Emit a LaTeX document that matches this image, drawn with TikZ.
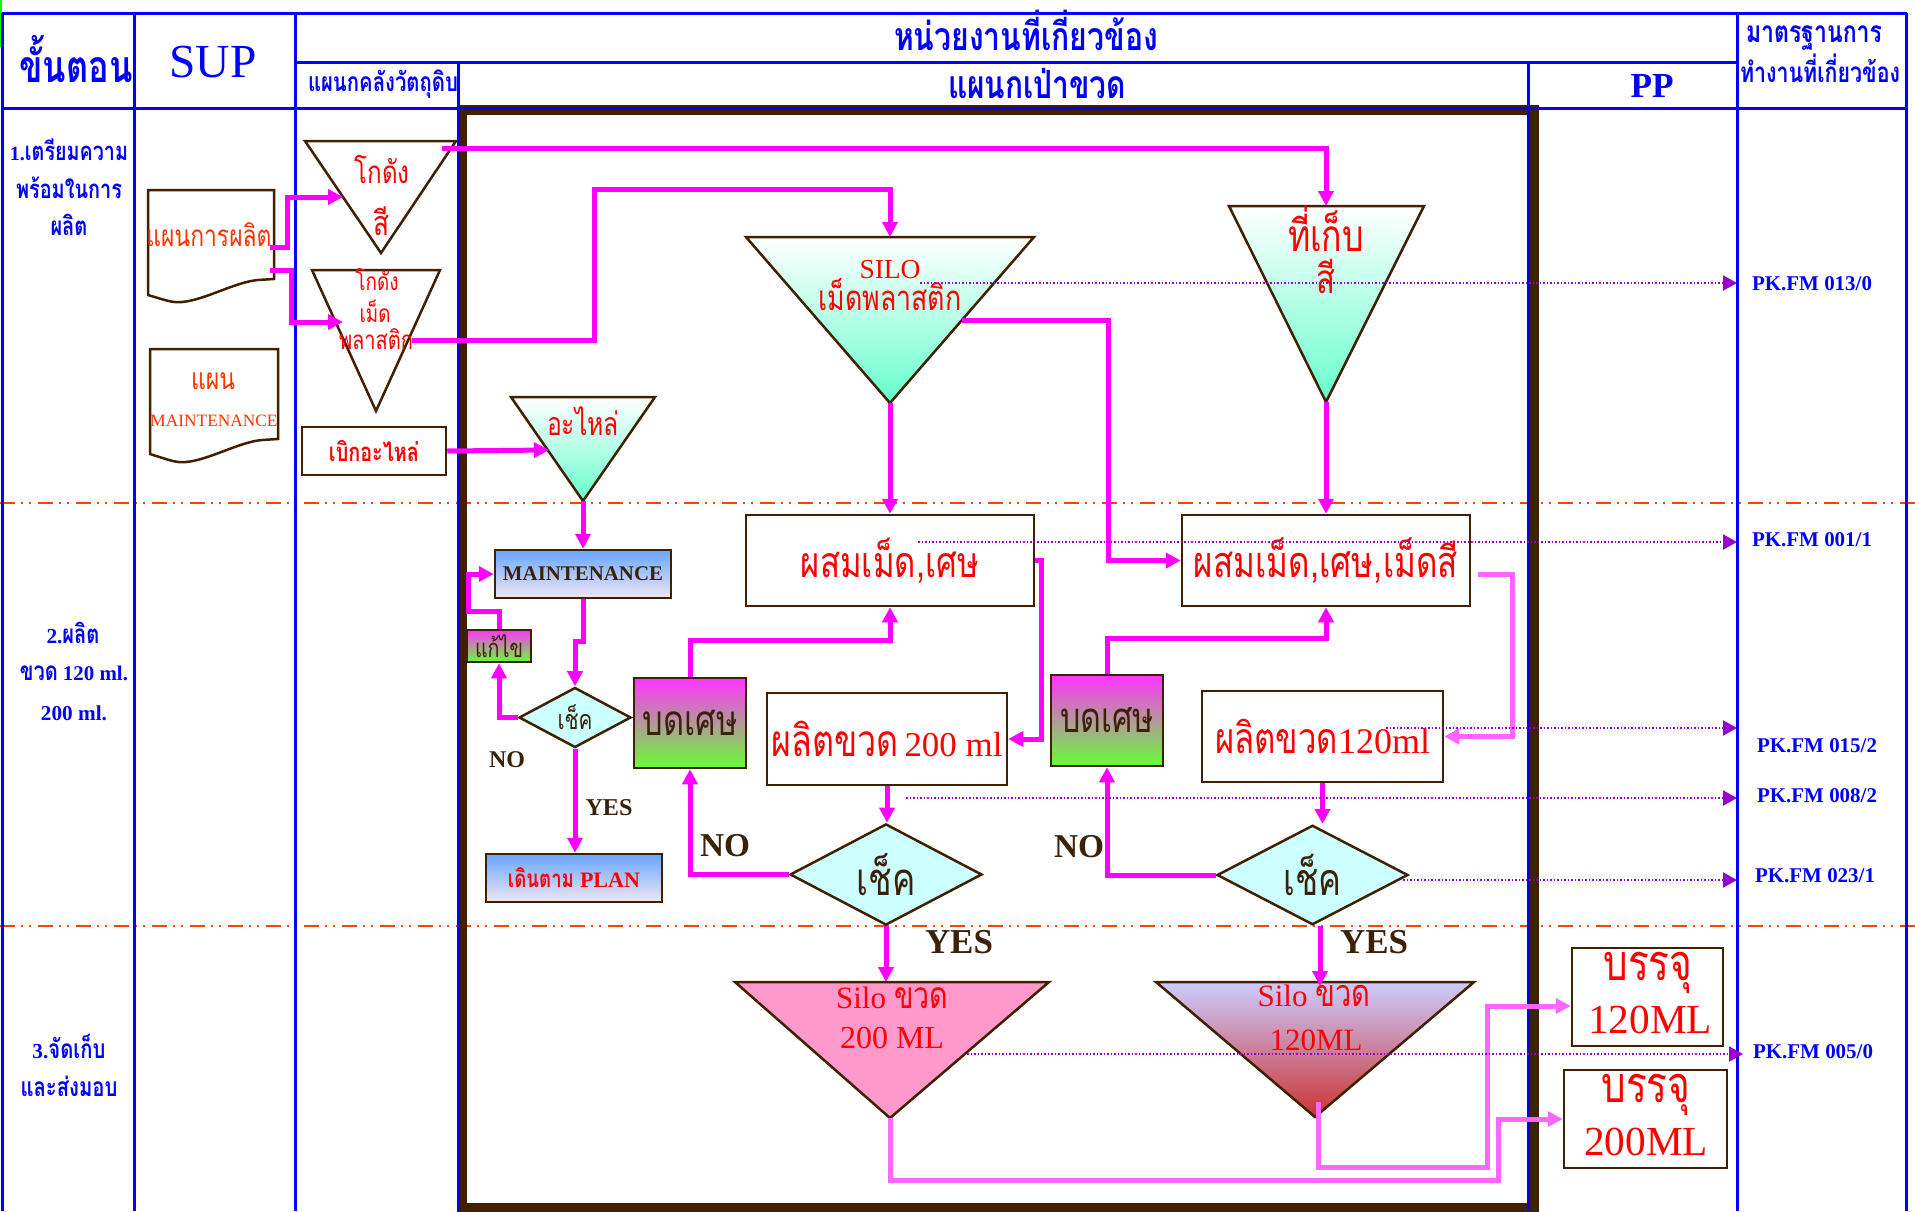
\documentclass[tikz,border=0pt]{standalone}
\usepackage{fontspec}
\setmainfont{Liberation Serif}
\newfontfamily\thf[Script=Thai]{Loma}
\usetikzlibrary{shapes.geometric,arrows.meta}
\newcommand\fw[2]{\resizebox{#1pt}{!}{#2}}
\newcommand\tw[2]{\scalebox{1}[1.3]{\resizebox{#1pt}{!}{\thf #2}}}
\newcommand\twb[2]{\scalebox{1}[1.3]{\resizebox{#1pt}{!}{\thf\bfseries #2}}}
\definecolor{tblue}{HTML}{0000FF}
\definecolor{mag}{HTML}{FF00FF}
\definecolor{lmag}{HTML}{FF66FF}
\definecolor{brn}{HTML}{402000}
\definecolor{pur}{HTML}{9900CC}
\definecolor{dred}{HTML}{FF4000}
\definecolor{aqua}{HTML}{66FFCC}
\definecolor{tred}{HTML}{FF0000}
\definecolor{ored}{HTML}{FF3300}
\definecolor{mblue}{HTML}{66A6FF}
\definecolor{lav}{HTML}{F2E6F2}
\definecolor{bmag}{HTML}{FF33FF}
\definecolor{bgreen}{HTML}{66FF33}
\definecolor{pinkf}{HTML}{FF99CC}
\definecolor{lavb}{HTML}{CCCCFF}
\definecolor{dkred}{HTML}{CC3333}
\definecolor{cyanf}{HTML}{CCFFFF}
\definecolor{dk}{HTML}{3A2208}
\definecolor{grn}{HTML}{00FF00}
\begin{document}
\begin{tikzpicture}[x=1pt,y=-1pt,
 tbl/.style={tblue, line width=3pt},
 sep/.style={dred, line width=2.5pt, dash pattern=on 15pt off 6pt on 2pt off 6pt on 2pt off 7pt},
 flow/.style={mag, line width=5pt, -{Triangle[length=15pt,width=15pt]}},
 lflow/.style={lmag, line width=5pt, -{Triangle[length=15pt,width=15pt]}},
 dotl/.style={pur, line width=2pt, dash pattern=on 1.5pt off 2pt, -{Triangle[length=14pt,width=15pt]}},
 box/.style={draw=brn, line width=2.5pt, fill=white, inner sep=0pt},
 dia/.style={diamond, draw=brn, line width=2.5pt, fill=cyanf, inner sep=0pt, text=dk},
 tri/.style={draw=brn, line width=2.5pt, line join=miter},
 lbl/.style={inner sep=0pt, anchor=base}
]
\useasboundingbox (0,0) rectangle (1915,1211);
\fill[white] (0,0) rectangle (1915,1211);
% row separators
\draw[sep] (0,503) -- (1915,503);
\draw[sep] (0,926) -- (1915,926);
% brown frame
\draw[brn, line width=10pt] (462,110) rectangle (1534,1208);
% table lines
\draw[grn, line width=2pt] (1,0) -- (1,47);
\draw[tbl] (2,13) -- (1907,13);
\draw[tbl] (295,62) -- (1737,62);
\draw[tbl] (2,108) -- (1907,108);
\draw[tbl] (2,13) -- (2,1211);
\draw[tbl] (134,13) -- (134,1211);
\draw[tbl] (295,13) -- (295,1211);
\draw[tbl] (458,62) -- (458,1211);
\draw[tbl] (1528,62) -- (1528,1211);
\draw[tbl] (1737,13) -- (1737,1211);
\draw[tbl] (1906,13) -- (1906,1211);
% header texts
\node[lbl, text=tblue] (hStep) at (76,82) {\twb{113}{ขั้นตอน}};
\node[lbl, text=tblue] (hSup) at (213,77) {\fw{87}{SUP}};
\node[lbl, text=tblue] (hRaw) at (383,91) {\twb{150}{แผนกคลังวัตถุดิบ}};
\node[lbl, text=tblue] (hUnits) at (1026,50) {\twb{264}{หน่วยงานที่เกี่ยวข้อง}};
\node[lbl, text=tblue] (hBlow) at (1037,98) {\twb{178}{แผนกเป่าขวด}};
\node[lbl, text=tblue] (hPP) at (1652,97) {\fw{43}{\bfseries PP}};
\node[lbl, text=tblue] (hStd1) at (1814,42) {\twb{136}{มาตรฐานการ}};
\node[lbl, text=tblue] (hStd2) at (1820,82) {\twb{160}{ทำงานที่เกี่ยวข้อง}};
% step texts
\node[lbl, text=tblue] (s1a) at (69,160) {\fw{15}{\bfseries 1.}\twb{103}{เตรียมความ}};
\node[lbl, text=tblue] (s1b) at (69,198) {\twb{106}{พร้อมในการ}};
\node[lbl, text=tblue] (s1c) at (69,235) {\twb{37}{ผลิต}};
\node[lbl, text=tblue] (s2a) at (73,643) {\fw{16}{\bfseries 2.}\twb{37}{ผลิต}};
\node[lbl, text=tblue] (s2b) at (74,680) {\twb{38}{ขวด}\hspace{5pt}\fw{65}{\bfseries 120 ml.}};
\node[lbl, text=tblue] (s2c) at (74,720) {\fw{66}{\bfseries 200 ml.}};
\node[lbl, text=tblue] (s3a) at (69,1058) {\fw{16}{\bfseries 3.}\twb{57}{จัดเก็บ}};
\node[lbl, text=tblue] (s3b) at (69,1096) {\twb{97}{และส่งมอบ}};
% documents
\draw[brn, line width=2.5pt, fill=white] (148,190) -- (274,190) -- (274,279) -- (258,280) .. controls (235,282) and (205,300) .. (182,302) .. controls (172,303) and (165,300) .. (148,295) -- cycle;
\node[lbl, text=ored] (tDoc1) at (209,246) {\tw{125}{แผนการผลิต}};
\draw[brn, line width=2.5pt, fill=white] (150,349) -- (278,349) -- (278,439) -- (262,440) .. controls (239,442) and (209,460) .. (186,462) .. controls (176,463) and (169,460) .. (150,454) -- cycle;
\node[lbl, text=ored] (tDoc2a) at (213,389) {\tw{44}{แผน}};
\node[lbl, text=ored] (tDoc2b) at (214,426) {\fw{127}{MAINTENANCE}};
% triangles
\filldraw[tri, fill=white] (305,141) -- (456,141) -- (381,253) -- cycle;
\node[lbl, text=tred] (tC1) at (382,183) {\tw{55}{โกดัง}};
\node[lbl, text=tred] (tC2) at (381,235) {\tw{16}{สี}};
\filldraw[tri, fill=white] (312,270) -- (440,270) -- (376,411) -- cycle;
\node[lbl, text=tred] (tP1) at (377,290) {\tw{43}{โกดัง}};
\node[lbl, text=tred] (tP2) at (375,322) {\tw{31}{เม็ด}};
\node[lbl, text=tred] (tP3) at (376,349) {\tw{74}{พลาสติก}};
\shadedraw[tri, top color=white, bottom color=aqua] (746,237) -- (1034,237) -- (890,403) -- cycle;
\node[lbl, text=tred] (tS1) at (890,278) {\fw{61}{SILO}};
\node[lbl, text=tred] (tS2) at (890,310) {\tw{143}{เม็ดพลาสติก}};
\shadedraw[tri, top color=white, bottom color=aqua] (1229,206) -- (1424,206) -- (1326,402) -- cycle;
\node[lbl, text=tred] (tK1) at (1326,251) {\tw{76}{ที่เก็บ}};
\node[lbl, text=tred] (tK2) at (1326,293) {\tw{19}{สี}};
\shadedraw[tri, top color=white, bottom color=aqua] (511,397) -- (655,397) -- (583,501) -- cycle;
\node[lbl, text=tred] (tA) at (583,435) {\tw{72}{อะไหล่}};
\filldraw[tri, fill=pinkf] (735,982) -- (1049,982) -- (890,1118) -- cycle;
\node[lbl, text=tred] (tB1) at (892,1008) {\fw{50}{Silo}\hspace{8pt}\tw{54}{ขวด}};
\node[lbl, text=tred] (tB2) at (892,1048) {\fw{104}{200 ML}};
\shadedraw[tri, top color=lavb, bottom color=dkred] (1156,982) -- (1474,982) -- (1315,1117) -- cycle;
\node[lbl, text=tred] (tD1) at (1314,1006) {\fw{50}{Silo}\hspace{8pt}\tw{55}{ขวด}};
\node[lbl, text=tred] (tD2) at (1316,1050) {\fw{93}{120ML}};
% boxes
\node[box, minimum width=144, minimum height=48, text=tred] (withdraw) at (374,451) {\twb{90}{เบิกอะไหล่}};
\node[box, minimum width=288, minimum height=91, text=tred] (mix1) at (890,560.5) {\tw{178}{ผสมเม็ด,เศษ}};
\node[box, minimum width=288, minimum height=91, text=tred] (mix2) at (1326,560.5) {\tw{264}{ผสมเม็ด,เศษ,เม็ดสี}};
\node[box, minimum width=240, minimum height=92, text=tred] (prod200) at (887,739) {\tw{127}{ผลิตขวด}\hspace{6pt}\fw{98}{200 ml}};
\node[box, minimum width=241, minimum height=91, text=tred] (prod120) at (1322.5,736.5) {\tw{123}{ผลิตขวด}\fw{92}{120ml}};
\node[box, minimum width=112, minimum height=90, top color=bmag, bottom color=bgreen, text=dk] (grind1) at (690,723) {\tw{95}{บดเศษ}};
\node[box, minimum width=112, minimum height=91, top color=bmag, bottom color=bgreen, text=dk] (grind2) at (1107,720.5) {\tw{94}{บดเศษ}};
\node[box, minimum width=176, minimum height=48, top color=mblue, bottom color=lav, text=dk] (maint) at (583,574) {\fw{160}{\bfseries MAINTENANCE}};
\node[box, minimum width=64, minimum height=32, top color=bmag, bottom color=bgreen, text=dk] (fix) at (499,646) {\tw{48}{แก้ไข}};
\node[box, minimum width=176, minimum height=48, top color=mblue, bottom color=lav, text=tred] (plan) at (574,878) {\twb{66}{เดินตาม}\hspace{6pt}\fw{60}{\bfseries PLAN}};
\node[box, minimum width=151, minimum height=98] (pack120) at (1647.5,997) {};
\node[lbl, text=tred] (tE1) at (1648,980) {\tw{89}{บรรจุ}};
\node[lbl, text=tred] (tE2) at (1650,1033) {\fw{124}{120ML}};
\node[box, minimum width=163, minimum height=98] (pack200) at (1645.5,1119) {};
\node[lbl, text=tred] (tF1) at (1646,1102) {\tw{89}{บรรจุ}};
\node[lbl, text=tred] (tF2) at (1646,1155) {\fw{124}{200ML}};
% diamonds
\node[dia, minimum width=112, minimum height=47] (chk0) at (575,717.5) {\tw{35}{เช็ค}};
\node[dia, minimum width=192, minimum height=89] (chk1) at (886,874.5) {\tw{59}{เช็ค}};
\node[dia, minimum width=191, minimum height=90] (chk2) at (1312.5,875) {\tw{58}{เช็ค}};
% labels
\node[lbl, text=dk] (no0) at (507,767) {\fw{36}{\bfseries NO}};
\node[lbl, text=dk] (yes0) at (609,815) {\fw{47}{\bfseries YES}};
\node[lbl, text=dk] (no1) at (725,856) {\fw{50}{\bfseries NO}};
\node[lbl, text=dk] (no2) at (1079,857) {\fw{50}{\bfseries NO}};
\node[lbl, text=dk] (yes1) at (959,953) {\fw{68}{\bfseries YES}};
\node[lbl, text=dk] (yes2) at (1374,953) {\fw{68}{\bfseries YES}};
% connector coordinates
\coordinate (d1a) at (270,247);
\coordinate (d1b) at (270,270);
\coordinate (kcL) at (343,197);
\coordinate (kpL) at (343,322);
\coordinate (kpR) at (412,340);
\coordinate (kcR) at (442,148);
\coordinate (siloTop) at (890,237);
\coordinate (siloApex) at (890,403);
\coordinate (siloR) at (962,320);
\coordinate (storeTop) at (1326,206);
\coordinate (storeApex) at (1326,402);
\coordinate (spareL) at (549,450);
\coordinate (spareApex) at (583,501);
\coordinate (s200Top) at (889,982);
\coordinate (s200Apex) at (890,1118);
\coordinate (s120Top) at (1320,986);
\coordinate (s120In) at (1318,1102);
\coordinate (m2o) at (1478,574);
% connectors
\draw[flow] (d1a) -- ++(17,0) |- (kcL);
\draw[flow] (d1b) -- ++(21,0) |- (kpL);
\draw[flow] (kpR) -| (594,189) -| (siloTop);
\draw[flow] (kcR) -| (storeTop);
\draw[flow] (withdraw.east) -- (spareL);
\draw[flow] (siloApex) -- (mix1.north);
\draw[flow] (siloR) -- (1108,320) |- (mix2.west);
\draw[flow] (storeApex) -- (mix2.north);
\draw[flow] (spareApex) -- (maint.north);
\draw[flow] (maint.south) -- ++(0,42) -| (chk0.north);
\draw[flow] (chk0.west) -| (fix.south);
\draw[flow] (fix.north) -- ++(0,-17) -| (468,574) -- (maint.west);
\draw[flow] (chk0.south) -- (chk0.south |- plan.north);
\draw[flow] (grind1.north) -- ++(0,-36) -| (mix1.south);
\draw[flow] (mix1.east) -- ++(6,0) |- (prod200.east);
\draw[flow] (prod200.south) -- (prod200.south |- chk1.north);
\draw[flow] (chk1.west) -| (grind1.south);
\draw[flow] (chk1.south) -- (chk1.south |- s200Top);
\draw[flow] (grind2.north) -- ++(0,-35) -| (mix2.south);
\draw[lflow] (m2o) -- (1512,574) |- (prod120.east);
\draw[flow] (prod120.south) -- (prod120.south |- chk2.north);
\draw[flow] (chk2.west) -| (grind2.south);
\draw[flow] (chk2.south -| s120Top) -- (s120Top);
\draw[lflow] (s120In) -- (1318,1167) -- (1487,1167) |- ([yshift=-9pt]pack120.west);
\draw[lflow] (s200Apex) -- (890,1180) -- (1498,1180) |- (pack200.west);
% dotted reference lines
\coordinate (q1) at (920,283); \coordinate (q1e) at (1737,283);
\coordinate (q2) at (918,542); \coordinate (q2e) at (1737,542);
\coordinate (q3) at (1386,728); \coordinate (q3e) at (1737,728);
\coordinate (q4) at (906,798); \coordinate (q4e) at (1737,798);
\coordinate (q5) at (1403,880); \coordinate (q5e) at (1737,880);
\coordinate (q6) at (967,1054); \coordinate (q6e) at (1743,1054);
\draw[dotl] (q1) -- (q1e);
\draw[dotl] (q2) -- (q2e);
\draw[dotl] (q3) -- (q3e);
\draw[dotl] (q4) -- (q4e);
\draw[dotl] (q5) -- (q5e);
\draw[dotl] (q6) -- (q6e);
\node[lbl, text=tblue] (pk1) at (1812,290) {\fw{120}{\bfseries PK.FM 013/0}};
\node[lbl, text=tblue] (pk2) at (1812,546) {\fw{120}{\bfseries PK.FM 001/1}};
\node[lbl, text=tblue] (pk3) at (1817,752) {\fw{120}{\bfseries PK.FM 015/2}};
\node[lbl, text=tblue] (pk4) at (1817,802) {\fw{120}{\bfseries PK.FM 008/2}};
\node[lbl, text=tblue] (pk5) at (1815,882) {\fw{120}{\bfseries PK.FM 023/1}};
\node[lbl, text=tblue] (pk6) at (1813,1058) {\fw{120}{\bfseries PK.FM 005/0}};
\end{tikzpicture}
\end{document}
